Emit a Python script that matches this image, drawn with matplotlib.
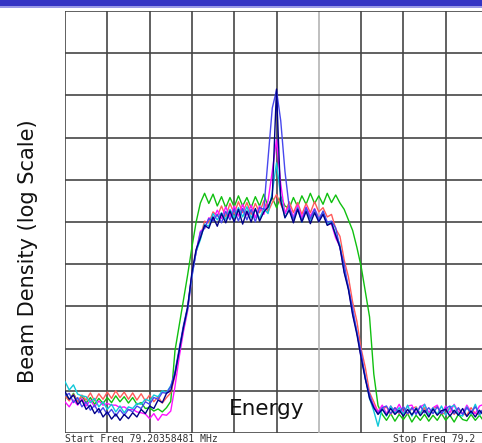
import numpy as np
import matplotlib
matplotlib.use("Agg")
import matplotlib.pyplot as plt
from matplotlib.patches import Rectangle

# sampling positions in screen divisions (0..10)
x = np.arange(101) / 10.0

navy = [0.98, 0.8, 0.9, 0.68, 0.78, 0.56, 0.66, 0.46, 0.58, 0.38,
        0.5, 0.33, 0.45, 0.3, 0.44, 0.34, 0.48, 0.38, 0.56, 0.46,
        0.64, 0.58, 0.78, 0.72, 0.94, 1.0, 1.4, 1.95, 2.5, 2.98,
        3.8, 4.35, 4.62, 4.92, 4.85, 5.12, 4.9, 5.2, 4.98, 5.26,
        5.0, 5.3, 4.95, 5.26, 5.0, 5.32, 5.02, 5.24, 5.35, 5.6,
        8.15, 5.5, 5.1, 5.28, 4.98, 5.3, 5.0, 5.25, 4.96, 5.22,
        5.0, 5.18, 4.92, 4.98, 4.68, 4.4, 3.8, 3.4, 2.8, 2.34,
        1.78, 1.28, 0.82, 0.6, 0.44, 0.56, 0.42, 0.58, 0.44, 0.54,
        0.4, 0.56, 0.43, 0.58, 0.41, 0.54, 0.38, 0.57, 0.42, 0.53,
        0.56, 0.4, 0.54, 0.42, 0.58, 0.39, 0.52, 0.38, 0.54, 0.41,
        0.47]

blue = [0.88, 0.94, 0.72, 0.84, 0.62, 0.74, 0.54, 0.66, 0.48, 0.6,
        0.44, 0.56, 0.4, 0.55, 0.42, 0.56, 0.5, 0.64, 0.58, 0.74,
        0.68, 0.84, 0.8, 0.96, 0.94, 1.1, 1.45, 2.0, 2.55, 3.0,
        3.75, 4.3, 4.75, 4.85, 5.08, 5.02, 5.18, 4.98, 5.25, 5.05,
        5.3, 5.02, 5.32, 5.05, 5.3, 5.0, 5.34, 5.3, 6.5, 7.7,
        8.12, 7.4, 6.2, 5.35, 5.05, 5.32, 5.02, 5.34, 5.08, 5.3,
        5.04, 5.26, 5.0, 5.02, 4.86, 4.38, 4.0, 3.42, 2.96, 2.38,
        1.92, 1.28, 0.92, 0.6, 0.46, 0.6, 0.64, 0.46, 0.6, 0.48,
        0.62, 0.46, 0.6, 0.44, 0.64, 0.48, 0.6, 0.46, 0.62, 0.46,
        0.58, 0.64, 0.46, 0.6, 0.44, 0.6, 0.48, 0.62, 0.46, 0.58,
        0.5]

cyan = [1.22, 1.02, 1.14, 0.92, 0.88, 0.86, 0.72, 0.82, 0.62, 0.74,
        0.56, 0.68, 0.5, 0.64, 0.48, 0.62, 0.58, 0.7, 0.68, 0.8,
        0.76, 0.9, 0.86, 1.0, 0.96, 1.12, 1.4, 1.95, 2.5, 2.95,
        3.7, 4.3, 4.58, 4.95, 4.9, 5.2, 5.05, 5.22, 5.06, 5.3,
        5.1, 5.34, 5.12, 5.36, 5.1, 5.3, 5.08, 5.32, 5.2, 5.7,
        6.4, 5.6, 5.1, 5.32, 5.06, 5.34, 5.0, 5.32, 5.04, 5.3,
        5.06, 5.24, 4.94, 5.0, 4.7, 4.46, 3.85, 3.45, 2.86, 2.4,
        1.82, 1.33, 0.82, 0.52, 0.16, 0.6, 0.4, 0.64, 0.46, 0.6,
        0.44, 0.66, 0.4, 0.6, 0.46, 0.68, 0.42, 0.6, 0.44, 0.64,
        0.42, 0.6, 0.66, 0.44, 0.4, 0.62, 0.45, 0.68, 0.42, 0.58,
        0.5]

magenta = [0.74, 0.62, 0.78, 0.66, 0.82, 0.64, 0.78, 0.62, 0.76, 0.66,
           0.7, 0.66, 0.66, 0.6, 0.62, 0.55, 0.56, 0.5, 0.48, 0.45,
           0.34, 0.46, 0.3, 0.44, 0.42, 0.52, 1.1, 1.8, 2.4, 2.9,
           3.7, 4.3, 4.78, 4.85, 5.1, 5.05, 5.28, 5.08, 5.36, 5.12,
           5.38, 5.14, 5.42, 5.16, 5.4, 5.1, 5.38, 5.18, 5.5, 6.2,
           6.95, 5.9, 5.2, 5.38, 5.12, 5.4, 5.1, 5.36, 5.14, 5.32,
           5.1, 5.22, 4.94, 4.95, 4.62, 4.42, 3.82, 3.46, 2.82, 2.4,
           1.8, 1.34, 0.86, 0.66, 0.5, 0.66, 0.46, 0.64, 0.5, 0.68,
           0.48, 0.64, 0.66, 0.46, 0.62, 0.68, 0.48, 0.6, 0.66, 0.46,
           0.64, 0.48, 0.68, 0.5, 0.46, 0.66, 0.5, 0.46, 0.64, 0.68,
           0.55]

red = [0.88, 0.76, 0.92, 0.74, 0.9, 0.78, 0.95, 0.76, 0.93, 0.8,
       0.97, 0.82, 1.0, 0.84, 0.97, 0.8, 0.95, 0.78, 0.93, 0.76,
       0.9, 0.74, 0.86, 0.71, 0.84, 0.95, 1.35, 1.9, 2.45, 2.95,
       3.75, 4.3, 4.65, 5.02, 4.98, 5.24, 5.14, 5.38, 5.12, 5.44,
       5.2, 5.48, 5.22, 5.46, 5.18, 5.44, 5.22, 5.5, 5.24, 5.46,
       5.65, 5.42, 5.2, 5.48, 5.22, 5.46, 5.18, 5.44, 5.22, 5.48,
       5.24, 5.34, 5.12, 5.18, 4.84, 4.66, 4.1, 3.7, 3.1, 2.65,
       2.0, 1.55, 0.96, 0.74, 0.5, 0.56, 0.62, 0.44, 0.6, 0.46,
       0.62, 0.44, 0.58, 0.62, 0.46, 0.6, 0.42, 0.58, 0.62, 0.46,
       0.46, 0.6, 0.44, 0.58, 0.46, 0.42, 0.6, 0.46, 0.44, 0.58,
       0.5]

green = [0.9, 0.78, 0.94, 0.74, 0.88, 0.71, 0.84, 0.68, 0.82, 0.7,
         0.84, 0.72, 0.88, 0.74, 0.86, 0.71, 0.84, 0.68, 0.72, 0.58,
         0.6, 0.52, 0.57, 0.5, 0.6, 0.75, 1.95, 2.55, 3.15, 3.75,
         4.4, 5.0, 5.45, 5.68, 5.44, 5.66, 5.38, 5.6, 5.34, 5.58,
         5.36, 5.62, 5.38, 5.58, 5.34, 5.6, 5.38, 5.66, 5.36, 5.58,
         5.34, 5.6, 5.38, 5.32, 5.58, 5.36, 5.62, 5.42, 5.68, 5.44,
         5.62, 5.42, 5.68, 5.46, 5.64, 5.45, 5.3, 5.05, 4.8, 4.4,
         3.95, 3.35, 2.75, 1.4, 0.65, 0.44, 0.3, 0.46, 0.28, 0.44,
         0.32, 0.46, 0.26, 0.42, 0.3, 0.44, 0.28, 0.42, 0.3, 0.46,
         0.3, 0.42, 0.26, 0.44, 0.32, 0.29, 0.44, 0.3, 0.42, 0.28,
         0.36]

series = [("green", green, "#10c010"),
          ("red", red, "#ff5a5a"),
          ("magenta", magenta, "#ff10ff"),
          ("cyan", cyan, "#10c8d8"),
          ("blue", blue, "#4848ee"),
          ("navy", navy, "#000088")]

ylabel = "Beam Density (log Scale)"
xlabel = "Energy"
start_txt = "Start Freq 79.20358481 MHz"
stop_txt = "Stop Freq 79.2"

W, H = 482, 443
fig = plt.figure(figsize=(W / 100, H / 100), dpi=100)
fig.patch.set_facecolor("white")

ax = fig.add_axes([65 / W, 10 / H, 423 / W, 422 / H])
ax.set_xlim(0, 10)
ax.set_ylim(0, 10)
ax.set_xticks([])
ax.set_yticks([])
for s in ax.spines.values():
    s.set_visible(False)

for i in range(11):
    c = "#b4b4b4" if i == 6 else "#454545"
    ax.axvline(i, color=c, lw=1.2, zorder=1)
    ax.axhline(i, color="#454545", lw=1.2, zorder=1)

for name, vals, col in series:
    ax.plot(x, vals, color=col, lw=1.0, zorder=3)

# top title bar
fig.add_artist(Rectangle((0, 1 - 6 / H), 1, 6 / H, transform=fig.transFigure,
                         facecolor="#3434c4", edgecolor="none"))
fig.add_artist(Rectangle((0, 1 - 7.5 / H), 1, 1.5 / H, transform=fig.transFigure,
                         facecolor="#9a9ae6", edgecolor="none"))

fig.text(28 / W, 1 - 251 / H, ylabel, rotation=90, ha="center", va="center",
         fontsize=15, color="#111111")
fig.text(267 / W, 1 - 409 / H, xlabel, ha="center", va="center",
         fontsize=15.5, color="#111111")
fig.text(65 / W, 1 - 434.5 / H, start_txt, ha="left", va="top",
         fontsize=7, family="DejaVu Sans Mono", color="#333333")
fig.text(393 / W, 1 - 434.5 / H, stop_txt, ha="left", va="top",
         fontsize=7, family="DejaVu Sans Mono", color="#333333")

fig.savefig("out.png", dpi=100)
